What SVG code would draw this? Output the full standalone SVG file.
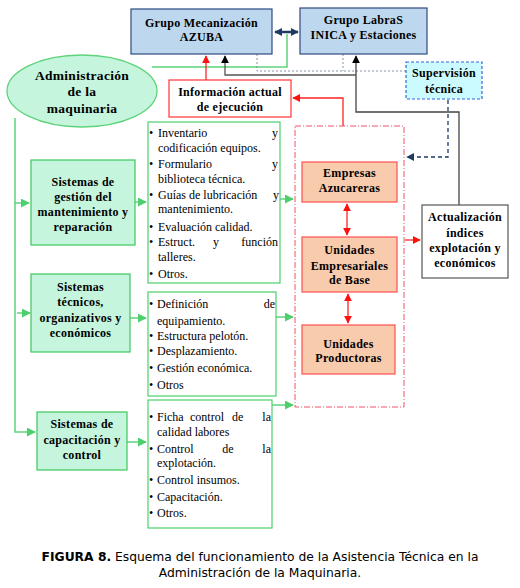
<svg xmlns="http://www.w3.org/2000/svg" width="520" height="588" viewBox="0 0 520 588">
<style>
.t{font-family:"Liberation Serif","Times New Roman","DejaVu Serif",serif;font-size:12px;fill:#000}
.b{font-family:"Liberation Serif","Times New Roman","DejaVu Serif",serif;font-size:12px;font-weight:bold;fill:#000;text-anchor:middle;letter-spacing:0.3px}
.blue{fill:#bdd7ee;stroke:#2f4a80;stroke-width:1.2}
.green{fill:#c5f5dc;stroke:#3cc65a;stroke-width:1.2}
.list{fill:#fff;stroke:#4ccf6c;stroke-width:1.2}
.sal{fill:#f8cbad;stroke:#ff5050;stroke-width:1.2}
.gl{stroke:#5ed37b;stroke-width:1.5;fill:none}
.rl{stroke:#ff2222;stroke-width:1.3;fill:none}
.cap{font-family:"DejaVu Sans",Verdana,sans-serif;font-size:12.3px;fill:#000;text-anchor:middle}
</style>
<defs>
<marker id="ag" viewBox="0 0 10 10" refX="9" refY="5" markerWidth="6" markerHeight="6" orient="auto-start-reverse"><path d="M0,0 L10,5 L0,10 z" fill="#4ccf6c"/></marker>
<marker id="ar" viewBox="0 0 10 10" refX="9" refY="5" markerWidth="6" markerHeight="6" orient="auto-start-reverse"><path d="M0,0 L10,5 L0,10 z" fill="#ff1111"/></marker>
<marker id="ak" viewBox="0 0 10 10" refX="9" refY="5" markerWidth="6" markerHeight="6" orient="auto-start-reverse"><path d="M0,0 L10,5 L0,10 z" fill="#000"/></marker>
<marker id="an" viewBox="0 0 10 10" refX="9" refY="5" markerWidth="6" markerHeight="6" orient="auto-start-reverse"><path d="M0,0 L10,5 L0,10 z" fill="#1f3864"/></marker>
<marker id="an2" viewBox="0 0 10 10" refX="9" refY="5" markerWidth="3.2" markerHeight="3.2" orient="auto-start-reverse"><path d="M0,0 L10,5 L0,10 z" fill="#1f3864"/></marker>
</defs>
<rect width="520" height="588" fill="#fff"/>

<g id="connectors">
  <path class="gl" d="M152,67 H287 V34"/>
  <line x1="275" y1="32" x2="298" y2="32" stroke="#1f3864" stroke-width="2.5" marker-start="url(#an2)" marker-end="url(#an2)"/>
  <path d="M257,54 V71 H406 M343,54 V71" stroke="#8894a8" stroke-width="1" stroke-dasharray="2,2" fill="none"/>
  <path d="M459,205 V112 H356 V56" stroke="#444" stroke-width="1.3" fill="none" marker-end="url(#ak)"/>
  <path d="M356,75 H225 V56" stroke="#555" stroke-width="1.3" fill="none" marker-end="url(#ak)"/>
  <line class="rl" x1="206" y1="80" x2="206" y2="56" marker-end="url(#ar)"/>
  <path class="rl" d="M343,126 V98 H293" marker-end="url(#ar)"/>
  <path d="M448,100 V157 H407" stroke="#1f3864" stroke-width="1.3" stroke-dasharray="4,3" fill="none" marker-end="url(#an)"/>
  <path class="gl" d="M15,118 V432 H35" marker-end="url(#ag)"/>
  <line class="gl" x1="15" y1="203" x2="29" y2="203" marker-end="url(#ag)"/>
  <line class="gl" x1="17" y1="313" x2="30" y2="313" marker-end="url(#ag)"/>
  <line class="gl" x1="135" y1="202" x2="146" y2="202" marker-end="url(#ag)"/>
  <line class="gl" x1="130" y1="318" x2="146" y2="318" marker-end="url(#ag)"/>
  <line class="gl" x1="127" y1="442" x2="146" y2="442" marker-end="url(#ag)"/>
  <line class="gl" x1="280" y1="199" x2="293" y2="199" marker-end="url(#ag)"/>
  <line class="gl" x1="276" y1="317" x2="293" y2="317" marker-end="url(#ag)"/>
  <line class="gl" x1="272" y1="405" x2="293" y2="405" marker-end="url(#ag)"/>
  <line class="rl" x1="347" y1="204" x2="347" y2="235" marker-start="url(#ar)" marker-end="url(#ar)"/>
  <line class="rl" x1="348" y1="294" x2="348" y2="323" marker-start="url(#ar)" marker-end="url(#ar)"/>
  <line class="rl" x1="405" y1="240" x2="420" y2="240" marker-end="url(#ar)"/>
</g>

<g id="container">
  <rect x="295" y="126" width="109" height="281" fill="none" stroke="#ee5566" stroke-width="1" stroke-dasharray="6,2,1,2"/>
</g>

<g id="mecanizacion">
  <rect class="blue" x="131" y="9" width="141" height="45"/>
  <text class="b" x="201.5" y="27">Grupo Mecanización</text>
  <text class="b" x="201.5" y="41">AZUBA</text>
</g>
<g id="labras">
  <rect class="blue" x="300" y="8" width="127" height="46"/>
  <text class="b" x="363.5" y="24">Grupo LabraS</text>
  <text class="b" x="363.5" y="39">INICA y Estaciones</text>
</g>
<g id="supervision">
  <rect x="406" y="62" width="76" height="37" fill="#ccfbff" stroke="#3366dd" stroke-width="1.2" stroke-dasharray="3,2"/>
  <text class="b" x="444" y="77">Supervisión</text>
  <text class="b" x="444" y="93">técnica</text>
</g>
<g id="informacion">
  <rect x="169" y="80" width="122" height="37" fill="#fff" stroke="#ff3333" stroke-width="1.2"/>
  <text class="b" x="230" y="96">Información actual</text>
  <text class="b" x="230" y="111">de ejecución</text>
</g>
<g id="administracion">
  <ellipse cx="82" cy="91" rx="75" ry="36" fill="#c5f5dc" stroke="#5ed37b" stroke-width="1.3"/>
  <text class="b" x="82" y="80" style="font-size:13.5px">Administración</text>
  <text class="b" x="82" y="96" style="font-size:13.5px">de la</text>
  <text class="b" x="82" y="113" style="font-size:13.5px">maquinaria</text>
</g>

<g id="gestion">
  <rect class="green" x="31" y="160" width="104" height="85"/>
  <text class="b" x="83" y="186">Sistemas de</text>
  <text class="b" x="83" y="201">gestión del</text>
  <text class="b" x="83" y="216">mantenimiento y</text>
  <text class="b" x="83" y="231">reparación</text>
</g>
<g id="tecnicos">
  <rect class="green" x="31" y="274" width="99" height="78"/>
  <text class="b" x="80.5" y="291">Sistemas</text>
  <text class="b" x="80.5" y="306">técnicos,</text>
  <text class="b" x="80.5" y="322">organizativos y</text>
  <text class="b" x="80.5" y="337">económicos</text>
</g>
<g id="capacitacion">
  <rect class="green" x="37" y="412" width="90" height="58"/>
  <text class="b" x="82" y="428">Sistemas de</text>
  <text class="b" x="82" y="444">capacitación y</text>
  <text class="b" x="82" y="459">control</text>
</g>

<g id="lista1">
  <rect class="list" x="148" y="122" width="132" height="161"/>
  <g class="t">
    <text x="149" y="137">•</text><text x="158" y="137">Inventario</text><text x="278" y="137" text-anchor="end">y</text>
    <text x="158" y="152">codificación equipos.</text>
    <text x="149" y="168">•</text><text x="158" y="168">Formulario</text><text x="278" y="168" text-anchor="end">y</text>
    <text x="158" y="183">biblioteca técnica.</text>
    <text x="149" y="199">•</text><text x="158" y="199">Guías de lubricación</text><text x="279" y="199" text-anchor="end">y</text>
    <text x="158" y="213">mantenimiento.</text>
    <text x="149" y="231">•</text><text x="158" y="231">Evaluación calidad.</text>
    <text x="149" y="246">•</text><text x="158" y="246">Estruct.</text><text x="216" y="246" text-anchor="middle">y</text><text x="278" y="246" text-anchor="end">función</text>
    <text x="158" y="261">talleres.</text>
    <text x="149" y="278">•</text><text x="158" y="278">Otros.</text>
  </g>
</g>
<g id="lista2">
  <rect class="list" x="148" y="292" width="128" height="104"/>
  <g class="t">
    <text x="149" y="308">•</text><text x="157" y="308">Definición</text><text x="275" y="308" text-anchor="end">de</text>
    <text x="157" y="325">equipamiento.</text>
    <text x="149" y="340">•</text><text x="157" y="340">Estructura pelotón.</text>
    <text x="149" y="355">•</text><text x="157" y="355">Desplazamiento.</text>
    <text x="149" y="372">•</text><text x="157" y="372">Gestión económica.</text>
    <text x="149" y="389">•</text><text x="157" y="389">Otros</text>
  </g>
</g>
<g id="lista3">
  <rect class="list" x="148" y="400" width="124" height="128"/>
  <g class="t">
    <text x="149" y="421">•</text><text x="157" y="421">Ficha</text><text x="190" y="421">control</text><text x="232" y="421">de</text><text x="271" y="421" text-anchor="end">la</text>
    <text x="157" y="436">calidad labores</text>
    <text x="149" y="453">•</text><text x="157" y="453">Control</text><text x="228" y="453" text-anchor="middle">de</text><text x="271" y="453" text-anchor="end">la</text>
    <text x="157" y="467">explotación.</text>
    <text x="149" y="484">•</text><text x="157" y="484">Control insumos.</text>
    <text x="149" y="501">•</text><text x="157" y="501">Capacitación.</text>
    <text x="149" y="517">•</text><text x="157" y="517">Otros.</text>
  </g>
</g>

<g id="empresas">
  <rect class="sal" x="302" y="162" width="95" height="40"/>
  <text class="b" x="349.5" y="177">Empresas</text>
  <text class="b" x="349.5" y="192">Azucareras</text>
</g>
<g id="ueb">
  <rect class="sal" x="302" y="237" width="95" height="55"/>
  <text class="b" x="349.5" y="254">Unidades</text>
  <text class="b" x="349.5" y="270">Empresariales</text>
  <text class="b" x="349.5" y="284">de Base</text>
</g>
<g id="productoras">
  <rect class="sal" x="302" y="325" width="93" height="49"/>
  <text class="b" x="348.5" y="348">Unidades</text>
  <text class="b" x="348.5" y="362">Productoras</text>
</g>
<g id="actualizacion">
  <rect x="422" y="205" width="86" height="73" fill="#fff" stroke="#555" stroke-width="1.2"/>
  <text class="b" x="465" y="221">Actualización</text>
  <text class="b" x="465" y="237">índices</text>
  <text class="b" x="465" y="252">explotación y</text>
  <text class="b" x="465" y="267">económicos</text>
</g>

<g id="caption">
  <text class="cap" x="260" y="561"><tspan font-weight="bold">FIGURA 8.</tspan> Esquema del funcionamiento de la Asistencia Técnica en la</text>
  <text class="cap" x="260" y="577">Administración de la Maquinaria.</text>
</g>
</svg>
